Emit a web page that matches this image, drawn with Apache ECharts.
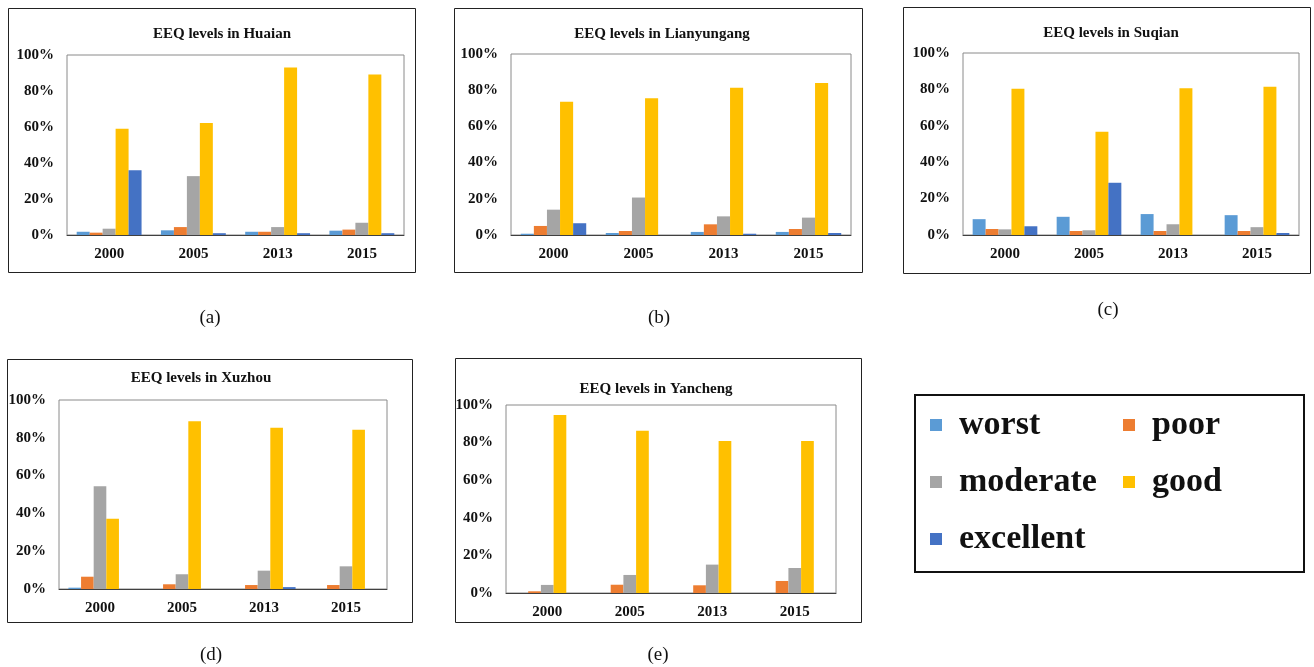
<!DOCTYPE html>
<html lang="en">
<head>
<meta charset="UTF-8">
<title>EEQ levels</title>
<script src="https://cdn.jsdelivr.net/npm/echarts/dist/echarts.min.js"></script>
<style>
  html, body { margin: 0; padding: 0; background: #fff; }
  #main { width: 1314px; height: 667px; }
</style>
</head>
<body>
<div id="main"></div>
<script>
var years = ['2000', '2005', '2013', '2015'];
var levels = ['worst', 'poor', 'moderate', 'good', 'excellent'];
var colors = ['#5B9BD5', '#ED7D31', '#A5A5A5', '#FFC000', '#4472C4'];

// one row per level (worst..excellent), one column per year, in %
var huaian = [
    [1.8, 2.6, 1.8, 2.4],
    [1.3, 4.4, 1.8, 3.0],
    [3.5, 32.7, 4.4, 6.8],
    [59.0, 62.2, 93.0, 89.1],
    [36.0, 1.0, 1.0, 1.0]
];
var lianyungang = [
    [0.7, 1.1, 1.7, 1.7],
    [5.0, 2.2, 5.9, 3.3],
    [14.0, 20.7, 10.3, 9.6],
    [73.6, 75.6, 81.4, 84.0],
    [6.5, 0, 0.7, 1.1]
];
var suqian = [
    [8.7, 10.0, 11.5, 10.9],
    [3.3, 2.2, 2.2, 2.2],
    [3.1, 2.6, 5.9, 4.3],
    [80.4, 56.7, 80.7, 81.5],
    [4.8, 28.7, 0, 1.1]
];
var xuzhou = [
    [0.7, 0, 0, 0],
    [6.5, 2.5, 2.1, 2.1],
    [54.3, 7.8, 9.7, 12.0],
    [37.2, 88.7, 85.3, 84.2],
    [0, 0, 1.0, 0]
];
var yancheng = [
    [0, 0, 0, 0],
    [0.9, 4.4, 4.1, 6.4],
    [4.3, 9.6, 15.1, 13.3],
    [94.7, 86.3, 80.9, 80.9],
    [0, 0, 0, 0]
];

var cities = ['Huaian', 'Lianyungang', 'Suqian', 'Xuzhou', 'Yancheng'];
var cityData = [huaian, lianyungang, suqian, xuzhou, yancheng];
var captions = ['(a)', '(b)', '(c)', '(d)', '(e)'];

// page layout of the five panels (pixels)
var panels = [
    { box: [8, 8, 407, 264], grid: [67, 55, 337, 180], title: [222, 33], cap: [210, 318] },
    { box: [454, 8, 408, 264], grid: [511, 54, 340, 181], title: [662, 33], cap: [659, 318] },
    { box: [903, 7, 407, 266], grid: [963, 53, 336, 182], title: [1111, 32], cap: [1108, 310] },
    { box: [7, 359, 405, 263], grid: [59, 400, 328, 189], title: [201, 377], cap: [211, 655] },
    { box: [455, 358, 406, 264], grid: [506, 405, 330, 188], title: [656, 388], cap: [658, 655] }
];

var serif = '"Liberation Serif", "Times New Roman", serif';

var chart = echarts.init(document.getElementById('main'));

var titles = [], grids = [], xAxes = [], yAxes = [], series = [], graphics = [];

panels.forEach(function (p, i) {
    titles.push({
        text: 'EEQ levels in ' + cities[i],
        left: p.title[0],
        top: p.title[1] - 6,
        textAlign: 'center',
        padding: 0,
        textStyle: { fontFamily: serif, fontWeight: 'bold', fontSize: 15, color: '#111' }
    });
    grids.push({
        left: p.grid[0], top: p.grid[1], width: p.grid[2], height: p.grid[3],
        show: true, borderColor: '#8a8a8a', borderWidth: 1
    });
    xAxes.push({
        type: 'category',
        gridIndex: i,
        data: years,
        axisLine: { lineStyle: { color: '#404040', width: 1 } },
        axisTick: { show: true, alignWithLabel: true, inside: true, length: 3, lineStyle: { color: '#404040' } },
        axisLabel: { fontFamily: serif, fontWeight: 'bold', fontSize: 15, color: '#111', margin: 12 }
    });
    yAxes.push({
        type: 'value',
        gridIndex: i,
        min: 0, max: 100, interval: 20,
        axisLine: { show: false },
        axisTick: { show: false },
        splitLine: { show: false },
        axisLabel: { formatter: '{value}%', fontFamily: serif, fontWeight: 'bold', fontSize: 15, color: '#111', margin: 13 }
    });
    levels.forEach(function (lv, j) {
        series.push({
            type: 'bar',
            name: lv,
            xAxisIndex: i,
            yAxisIndex: i,
            data: cityData[i][j],
            itemStyle: { color: colors[j] },
            barGap: '0%',
            barCategoryGap: '23%'
        });
    });
    graphics.push({
        type: 'rect', silent: true,
        shape: { x: p.box[0] + 0.5, y: p.box[1] + 0.5, width: p.box[2], height: p.box[3] },
        style: { fill: 'none', stroke: '#222', lineWidth: 1 }
    });
    graphics.push({
        type: 'text', silent: true,
        style: {
            text: captions[i], x: p.cap[0], y: p.cap[1],
            textAlign: 'center', textVerticalAlign: 'middle',
            font: '19px ' + serif, fill: '#111'
        }
    });
});

// legend frame
graphics.push({
    type: 'rect', silent: true,
    shape: { x: 915, y: 395, width: 389, height: 177 },
    style: { fill: 'none', stroke: '#111', lineWidth: 2 }
});

var legendText = { fontFamily: serif, fontWeight: 'bold', fontSize: 34, lineHeight: 40, color: '#111', padding: [0, 0, 0, 12] };

var option = {
    animation: false,
    title: titles,
    legend: [
        {
            data: ['worst', 'moderate', 'excellent'],
            orient: 'vertical', left: 930, top: 405, padding: 0,
            icon: 'rect', itemWidth: 12, itemHeight: 12, itemGap: 17,
            selectedMode: false, textStyle: legendText
        },
        {
            data: ['poor', 'good'],
            orient: 'vertical', left: 1123, top: 405, padding: 0,
            icon: 'rect', itemWidth: 12, itemHeight: 12, itemGap: 17,
            selectedMode: false, textStyle: legendText
        }
    ],
    grid: grids,
    xAxis: xAxes,
    yAxis: yAxes,
    series: series,
    graphic: graphics
};

chart.setOption(option);
</script>
</body>
</html>
